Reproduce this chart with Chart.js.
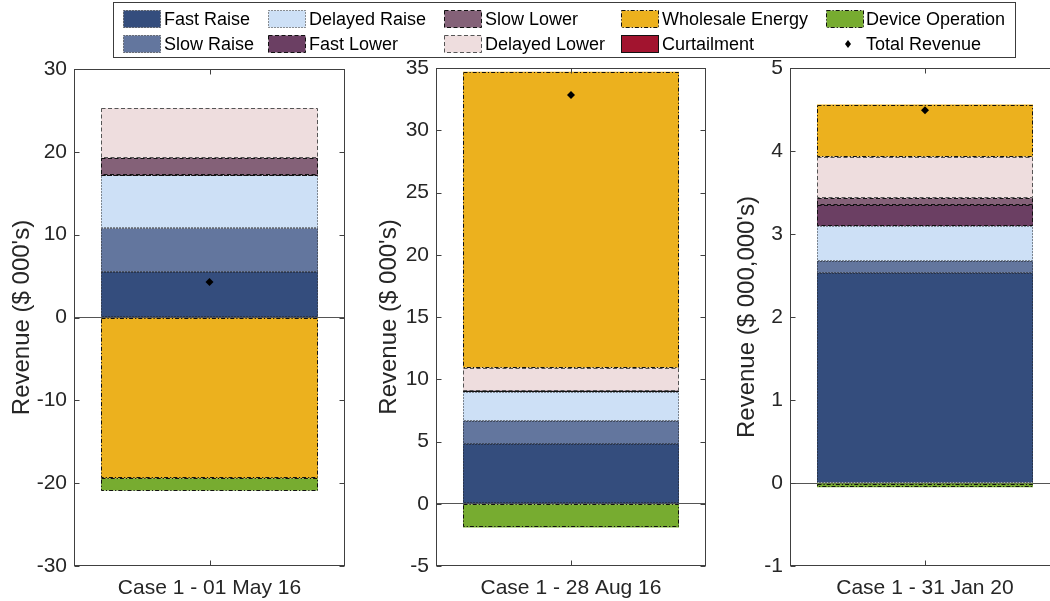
<!DOCTYPE html>
<html>
<head>
<meta charset="utf-8">
<title>Revenue by service</title>
<script src="https://cdn.jsdelivr.net/npm/chart.js@4/dist/chart.umd.min.js"></script>
<style>
  html, body { margin: 0; padding: 0; width: 1050px; height: 601px; overflow: hidden; background: #fff; }
  body { position: relative; font-family: "Liberation Sans", Arial, sans-serif; }
  canvas.panel { position: absolute; top: 0; }
  #legendBox { position: absolute; left: 113px; top: 2px; width: 901px; height: 54px; border: 1px solid #3c3c3c; background: #fff; box-sizing: content-box; }
  .lg-text { position: absolute; font-size: 18px; line-height: 20px; color: #000; white-space: nowrap; }
  .lg-sw { position: absolute; }
</style>
</head>
<body>
<div id="legendBox"></div>
<canvas id="panel0" class="panel" width="360" height="601" style="left:0px"></canvas>
<canvas id="panel1" class="panel" width="360" height="601" style="left:360px"></canvas>
<canvas id="panel2" class="panel" width="360" height="601" style="left:720px"></canvas>
<script>
// ---- data -------------------------------------------------------------
const categories = ['Case 1 - 01 May 16', 'Case 1 - 28 Aug 16', 'Case 1 - 31 Jan 20'];
const axisTitles = ["Revenue ($ 000's)", "Revenue ($ 000's)", "Revenue ($ 000,000's)"];
const yMin = [-30, -5, -1];
const yMax = [30, 35, 5];
const yStep = [10, 5, 1];

const seriesNames = ['Fast Raise', 'Slow Raise', 'Delayed Raise', 'Fast Lower', 'Slow Lower',
                     'Delayed Lower', 'Wholesale Energy', 'Curtailment', 'Device Operation'];
const fastRaise       = [5.55, 4.80, 2.535];
const slowRaise       = [5.20, 1.87, 0.14];
const delayedRaise    = [6.40, 2.32, 0.42];
const fastLower       = [0.05, 0.05, 0.255];
const slowLower       = [2.05, 0.05, 0.08];
const delayedLower    = [6.00, 1.83, 0.50];
const wholesaleEnergy = [-19.40, 23.78, 0.63];
const curtailment     = [0, 0, 0];
const deviceOperation = [-1.50, -1.90, -0.05];
const totalRevenue    = [4.30, 32.84, 4.49];
const totalLabel = 'Total Revenue';

const seriesValues = [fastRaise, slowRaise, delayedRaise, fastLower, slowLower,
                      delayedLower, wholesaleEnergy, curtailment, deviceOperation];

// ---- styles -----------------------------------------------------------
const fillColors = ['#344D7D', '#63769E', '#CDE0F6', '#6B3F63', '#846178',
                    '#EEDDDE', '#ECB11E', '#A2142F', '#77AC30'];
const edgeColors = ['#1e1e1e', '#1e1e1e', '#2a2a2a', '#111111', '#111111',
                    '#555555', '#111111', '#111111', '#111111'];
const DOT = [1, 2], DASH = [4, 2.5], DASHDOT = [4, 2, 1.2, 2], SOLID = [];
const edgeDashes = [DOT, DOT, DOT, DASH, DASH, DASH, DASHDOT, SOLID, DASHDOT];

const FONT = "'Liberation Sans', Arial, Helvetica, sans-serif";
const AXIS_COLOR = '#262626';

// per-panel placement of the plot box inside its canvas
const panelLayout = [
  { axisW: 74, padRight: 15, padTop: 69, titlePad: 7.6 },
  { axisW: 76, padRight: 14, padTop: 68, titlePad: 14.6 },
  { axisW: 70, padRight: 20, padTop: 68, titlePad: 12.6 }
];

// ---- plugin: patterned bar edges, box frame and inward ticks -----------
function strokeBarEdges(chart) {
  const ctx = chart.ctx;
  chart.data.datasets.forEach((ds, di) => {
    if (!ds.edgeDash) return;
    const meta = chart.getDatasetMeta(di);
    ctx.save();
    ctx.lineWidth = 1;
    ctx.strokeStyle = ds.edgeColor;
    ctx.setLineDash(ds.edgeDash);
    meta.data.forEach((bar, i) => {
      if (!ds.data[i]) return;
      const p = bar.getProps(['x', 'y', 'base', 'width'], true);
      const l = Math.round(p.x - p.width / 2) + 0.5;
      const r = Math.round(p.x + p.width / 2) - 0.5;
      const t = Math.round(Math.min(p.y, p.base)) + 0.5;
      const b = Math.round(Math.max(p.y, p.base)) - 0.5;
      ctx.strokeRect(l, t, r - l, Math.max(b - t, 0));
    });
    ctx.restore();
  });
}

const framePlugin = {
  id: 'boxFrame',
  // bar outlines go on after every fill, just before the total markers
  beforeDatasetDraw(chart, args) {
    const ds = chart.data.datasets[args.index];
    if (ds.type === 'line') strokeBarEdges(chart);
  },
  afterDraw(chart) {
    const { ctx, chartArea: a, scales } = chart;
    const x = scales.x, y = scales.y;
    ctx.save();
    ctx.strokeStyle = '#404040';
    ctx.lineWidth = 1;
    ctx.setLineDash([]);
    const L = Math.round(a.left) + 0.5, R = Math.round(a.right) - 0.5;
    const T = Math.round(a.top) + 0.5, B = Math.round(a.bottom) - 0.5;
    ctx.strokeRect(L, T, R - L, B - T);
    ctx.beginPath();
    y.ticks.forEach((t, i) => {
      const py = Math.round(y.getPixelForTick(i)) + 0.5;
      ctx.moveTo(L, py); ctx.lineTo(L + 5, py);
      ctx.moveTo(R, py); ctx.lineTo(R - 5, py);
    });
    x.ticks.forEach((t, i) => {
      const px = Math.round(x.getPixelForTick(i)) + 0.5;
      ctx.moveTo(px, B); ctx.lineTo(px, B - 5);
      ctx.moveTo(px, T); ctx.lineTo(px, T + 5);
    });
    ctx.stroke();
    ctx.restore();
  }
};

function buildPanel(p) {
  const lay = panelLayout[p];
  const datasets = seriesValues.map((vals, s) => ({
    type: 'bar',
    label: seriesNames[s],
    data: [vals[p]],
    backgroundColor: fillColors[s],
    borderWidth: 0,
    stack: 'revenue',
    order: 1,
    edgeColor: edgeColors[s],
    edgeDash: edgeDashes[s]
  }));
  datasets.push({
    type: 'line',
    label: totalLabel,
    data: [totalRevenue[p]],
    stack: 'total',
    showLine: false,
    pointStyle: 'rectRot',
    pointRadius: 4,
    pointBackgroundColor: '#000',
    pointBorderColor: '#000',
    pointBorderWidth: 0,
    order: 0
  });

  return new Chart(document.getElementById('panel' + p), {
    data: { labels: [categories[p]], datasets },
    plugins: [framePlugin],
    options: {
      responsive: false,
      animation: false,
      devicePixelRatio: 1,
      events: [],
      layout: { padding: { top: lay.padTop, right: lay.padRight, left: 0, bottom: 0 } },
      plugins: { legend: { display: false }, tooltip: { enabled: false } },
      datasets: { bar: { categoryPercentage: 1, barPercentage: 0.8 } },
      scales: {
        x: {
          stacked: true,
          grid: { display: false, drawTicks: false },
          border: { display: false },
          ticks: { color: AXIS_COLOR, font: { family: FONT, size: 21 }, padding: 10 },
          afterFit: (s) => { s.height = 35; }
        },
        y: {
          stacked: true,
          min: yMin[p],
          max: yMax[p],
          grid: {
            drawTicks: false,
            lineWidth: 1,
            color: (c) => (c.tick && c.tick.value === 0 ? '#555555' : 'rgba(0,0,0,0)')
          },
          border: { display: false },
          ticks: { stepSize: yStep[p], color: AXIS_COLOR, font: { family: FONT, size: 21 }, padding: 7 },
          title: {
            display: true,
            text: axisTitles[p],
            color: AXIS_COLOR,
            font: { family: FONT, size: 24 },
            padding: { top: lay.titlePad, bottom: 0 }
          },
          afterFit: (s) => { s.width = lay.axisW; }
        }
      }
    }
  });
}

[0, 1, 2].forEach(buildPanel);

// ---- legend (column-major, 5 columns x 2 rows) --------------------------
const legendSwatchX = [123, 268, 444, 621, 826];
const legendTextX = [164, 309, 485, 662, 866];
const legendRowY = [19, 44];
const SVGNS = 'http://www.w3.org/2000/svg';

function addLegendText(text, x, yc) {
  const el = document.createElement('div');
  el.className = 'lg-text';
  el.textContent = text;
  el.style.left = x + 'px';
  el.style.top = (yc - 10) + 'px';
  document.body.appendChild(el);
}

seriesNames.forEach((name, k) => {
  const col = Math.floor(k / 2), row = k % 2;
  const yc = legendRowY[row];
  const svg = document.createElementNS(SVGNS, 'svg');
  svg.setAttribute('class', 'lg-sw');
  svg.setAttribute('width', 38);
  svg.setAttribute('height', 18);
  svg.style.left = legendSwatchX[col] + 'px';
  svg.style.top = (yc - 9) + 'px';
  const rect = document.createElementNS(SVGNS, 'rect');
  rect.setAttribute('x', 0.5); rect.setAttribute('y', 0.5);
  rect.setAttribute('width', 37); rect.setAttribute('height', 17);
  rect.setAttribute('fill', fillColors[k]);
  rect.setAttribute('stroke', edgeColors[k]);
  rect.setAttribute('stroke-width', 1);
  if (edgeDashes[k].length) rect.setAttribute('stroke-dasharray', edgeDashes[k].join(' '));
  svg.appendChild(rect);
  document.body.appendChild(svg);
  addLegendText(name, legendTextX[col], yc);
});

(function () {
  const k = seriesNames.length, col = Math.floor(k / 2), row = k % 2;
  const yc = legendRowY[row];
  const svg = document.createElementNS(SVGNS, 'svg');
  svg.setAttribute('class', 'lg-sw');
  svg.setAttribute('width', 10);
  svg.setAttribute('height', 10);
  svg.style.left = (legendSwatchX[col] + 17) + 'px';
  svg.style.top = (yc - 5) + 'px';
  const poly = document.createElementNS(SVGNS, 'polygon');
  poly.setAttribute('points', '5,1 8,5 5,9 2,5');
  poly.setAttribute('fill', '#000');
  svg.appendChild(poly);
  document.body.appendChild(svg);
  addLegendText(totalLabel, legendTextX[col], yc);
})();
</script>
</body>
</html>
